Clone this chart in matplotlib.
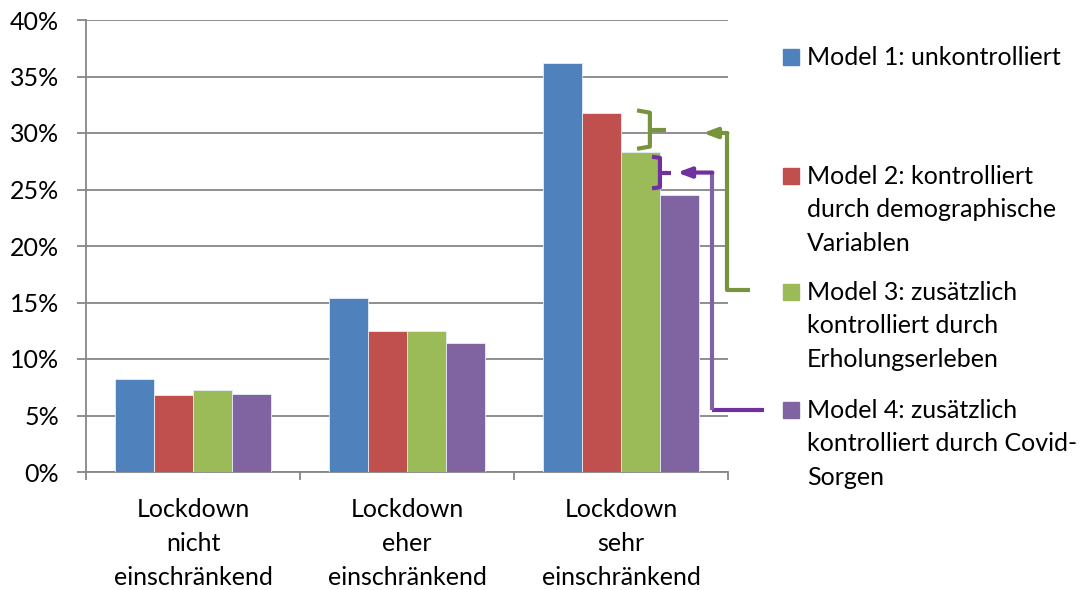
import matplotlib
matplotlib.use("Agg")
import matplotlib.pyplot as plt
import numpy as np
from matplotlib.patches import Rectangle

categories = ["Lockdown\nnicht\neinschränkend", "Lockdown\neher\neinschränkend", "Lockdown\nsehr\neinschränkend"]
series_names = [
    "Model 1: unkontrolliert",
    "Model 2: kontrolliert\ndurch demographische\nVariablen",
    "Model 3: zusätzlich\nkontrolliert durch\nErholungserleben",
    "Model 4: zusätzlich\nkontrolliert durch Covid-\nSorgen",
]
model1 = [8.2, 15.4, 36.2]
model2 = [6.8, 12.5, 31.8]
model3 = [7.3, 12.5, 28.3]
model4 = [6.9, 11.4, 24.5]
yticks = [0, 5, 10, 15, 20, 25, 30, 35, 40]
ytick_labels = ["0%", "5%", "10%", "15%", "20%", "25%", "30%", "35%", "40%"]

colors = ["#4F81BD", "#C0504D", "#9BBB59", "#8064A2"]
grid_c = "#868686"
FONT = "Lato"
FS = 18

W, H = 1089, 590
fig = plt.figure(figsize=(W / 100, H / 100), dpi=100)
ax = fig.add_axes([86 / W, 1 - 472 / H, (728 - 86) / W, (472 - 20) / H])

x = np.arange(len(categories))
bw = 1 / 5.5
for i, vals in enumerate([model1, model2, model3, model4]):
    ax.bar(x + (i - 1.5) * bw, vals, width=bw, color=colors[i],
           edgecolor="#E6EEF7", linewidth=0.6, zorder=3)

ax.set_xlim(-0.5, 2.5)
ax.set_ylim(0, 40)
ax.set_yticks(yticks)
ax.set_yticklabels(ytick_labels, fontsize=FS, family=FONT)
ax.yaxis.grid(True, color=grid_c, linewidth=1.3, zorder=0)
ax.set_axisbelow(True)
ax.tick_params(axis="y", length=6.5, width=1.3, color=grid_c, pad=13, direction="out")
for s in ["top", "right"]:
    ax.spines[s].set_visible(False)
for s in ["left", "bottom"]:
    ax.spines[s].set_color(grid_c)
    ax.spines[s].set_linewidth(1.3)

# category separators as ticks
ax.set_xticks([-0.5, 0.5, 1.5, 2.5])
ax.set_xticklabels([])
ax.tick_params(axis="x", length=6, width=1.3, color=grid_c, direction="out")
for xi, lab in zip(x, categories):
    ax.text(xi, -2.3, lab, ha="center", va="top", fontsize=FS, family=FONT,
            linespacing=1.58, transform=ax.transData)

# annotations (data coordinates, clip off)
green = "#77933C"
purple_b = "#7030A0"
purple_l = "#8064A2"
lw = 3

def line(xs, ys, c):
    ax.plot(xs, ys, color=c, lw=lw, clip_on=False, zorder=5, solid_capstyle="butt",
            solid_joinstyle="round")

arrow_style = "-|>,head_length=0.8,head_width=0.3"
# green bracket
line([2.075, 2.135, 2.135, 2.075], [32.0, 31.8, 28.8, 28.6], green)
line([2.135, 2.21], [30.3, 30.3], green)
# green arrow
line([2.603, 2.495, 2.495], [16.1, 16.1, 30.0], green)
ax.annotate("", xy=(2.383, 30.0), xytext=(2.497, 30.0),
            arrowprops=dict(arrowstyle=arrow_style, color=green, lw=lw,
                            shrinkA=0, shrinkB=0), annotation_clip=False, zorder=5)
# purple bracket
line([2.145, 2.182, 2.182, 2.145], [27.9, 27.8, 25.2, 25.1], purple_b)
line([2.182, 2.235], [26.5, 26.5], purple_b)
# purple arrow
line([2.67, 2.425], [5.5, 5.5], purple_b)
line([2.425, 2.425], [5.5, 26.5], purple_l)
ax.annotate("", xy=(2.262, 26.5), xytext=(2.427, 26.5),
            arrowprops=dict(arrowstyle=arrow_style, color=purple_b, lw=lw,
                            shrinkA=0, shrinkB=0), annotation_clip=False, zorder=5)

# legend (manual)
entry_y = [57, 176, 292, 410]
for name, c, yy in zip(series_names, colors, entry_y):
    fig.patches.append(Rectangle((783 / W, 1 - (yy + 8) / H), 16 / W, 16 / H,
                                 transform=fig.transFigure, color=c))
    fig.text(807 / W, 1 - (yy - 11) / H, name, ha="left", va="top",
             fontsize=FS, family=FONT, linespacing=1.55)

fig.savefig("out.png", dpi=100)
